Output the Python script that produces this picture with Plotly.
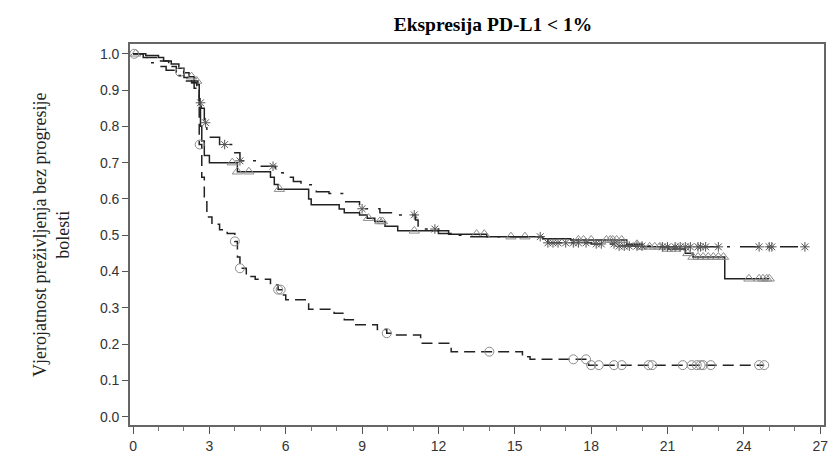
import numpy as np
import plotly.graph_objects as go

# Kaplan-Meier step points (time in months, survival probability)
tri_times = [0, 0.5, 1.0, 1.2, 1.5, 1.8, 2.0, 2.2, 2.4, 2.55, 2.6, 2.65, 2.7, 2.8, 3.0,
             4.1, 5.4, 5.55, 5.7, 6.9, 7.0, 8.1, 8.3, 8.9, 9.2, 9.5, 9.9, 10.4, 12.4,
             13.9, 16.1, 17.2, 19.4, 20.0, 21.0, 21.7, 22.0, 23.25]
tri_surv = [1.0, 0.995, 0.99, 0.98, 0.972, 0.96, 0.948, 0.937, 0.925, 0.915, 0.86, 0.80, 0.76, 0.72, 0.70,
            0.675, 0.66, 0.64, 0.627, 0.60, 0.584, 0.572, 0.562, 0.556, 0.547, 0.538, 0.525, 0.512, 0.503,
            0.496, 0.49, 0.487, 0.475, 0.468, 0.462, 0.45, 0.44, 0.38]
tri_end = 25.0
tri_cens = [0.1, 2.3, 2.5, 3.9, 4.1, 4.55, 5.75, 9.25, 9.7, 9.8, 11.05, 13.5, 13.8, 14.85, 15.4,
            17.5, 17.7, 18.0, 18.6, 18.75, 18.85, 19.0, 19.2, 19.8, 20.0, 20.3, 20.5, 20.7, 21.0,
            21.3, 21.8, 22.0, 22.2, 22.4, 22.6, 22.8, 23.0, 23.2, 24.2, 24.6, 24.75, 24.9, 25.0]

star_times = [0, 0.4, 0.6, 0.9, 1.3, 1.7, 2.1, 2.4, 2.6, 2.68, 2.8, 2.9, 3.0, 3.4, 4.0, 4.2,
              5.0, 5.6, 5.9, 6.3, 6.6, 7.2, 7.7, 8.3, 8.9, 9.7, 10.2, 11.1, 11.2, 12.0, 12.5,
              13.0, 16.3, 18.0, 19.0, 20.5]
star_surv = [1.0, 0.99, 0.975, 0.965, 0.955, 0.94, 0.925, 0.905, 0.865, 0.85, 0.81, 0.79, 0.77, 0.75, 0.727, 0.705,
             0.69, 0.672, 0.66, 0.648, 0.639, 0.62, 0.615, 0.592, 0.573, 0.562, 0.556, 0.542, 0.517, 0.505, 0.50,
             0.496, 0.479, 0.476, 0.47, 0.468]
star_end = 26.4
star_cens = [2.65, 2.85, 3.6, 4.2, 5.5, 9.0, 11.05, 11.86, 16.0, 16.3, 16.5, 16.7, 17.0, 17.3, 17.5,
             17.8, 18.2, 18.4, 18.9, 19.1, 19.3, 19.5, 19.8, 20.0, 20.8, 21.0, 21.3, 21.5, 21.7,
             21.9, 22.2, 22.3, 22.5, 23.0, 24.6, 25.0, 25.1, 26.4]

circ_times = [0, 0.5, 1.0, 1.4, 1.7, 2.0, 2.3, 2.5, 2.6, 2.7, 2.8, 2.9, 3.1, 3.4, 3.7, 4.0, 4.1,
              4.2, 4.45, 4.8, 5.4, 5.7, 5.85, 6.0, 6.9, 7.9, 8.3, 8.7, 9.6, 9.97, 10.2, 11.3,
              12.5, 15.3, 15.6, 17.9]
circ_surv = [1.0, 0.99, 0.98, 0.965, 0.95, 0.935, 0.92, 0.91, 0.75, 0.66, 0.60, 0.55, 0.53, 0.515, 0.505, 0.483, 0.44,
             0.409, 0.386, 0.379, 0.363, 0.35, 0.335, 0.322, 0.296, 0.285, 0.267, 0.253, 0.24, 0.23, 0.225, 0.202,
             0.179, 0.165, 0.158, 0.142]
circ_end = 24.8
circ_cens = [0.05, 1.85, 2.62, 4.0, 4.2, 5.7, 5.8, 9.97, 14.0, 17.3, 17.8, 18.0, 18.3, 18.9, 19.2,
             20.26, 20.4, 21.6, 21.95, 22.15, 22.3, 22.4, 22.7, 24.6, 24.8]

y_ticks = [0.0, 0.1, 0.2, 0.3, 0.4, 0.5, 0.6, 0.7, 0.8, 0.9, 1.0]
x_ticks = [0, 3, 6, 9, 12, 15, 18, 21, 24, 27]


def step_at(times, surv, t):
    i = np.searchsorted(times, t, side="right") - 1
    return np.asarray(surv)[i]


fig = go.Figure()

groups = [
    (tri_times, tri_surv, tri_end, tri_cens, "solid", "triangle-up-open", "#8c8c8c", 9),
    (star_times, star_surv, star_end, star_cens, "18px,9px,3px,10px", "asterisk-open", "#555555", 8),
    (circ_times, circ_surv, circ_end, circ_cens, "11px,6px", "circle-open", "#8c8c8c", 9),
]

for times, surv, end, cens, dash, sym, mcol, msize in groups:
    fig.add_trace(go.Scatter(
        x=list(times) + [end], y=list(surv) + [surv[-1]],
        mode="lines", line=dict(color="#222222", width=1.5, dash=dash, shape="hv"),
        showlegend=False, hoverinfo="skip"))
    cens = np.array(cens)
    fig.add_trace(go.Scatter(
        x=cens, y=step_at(times, surv, cens), mode="markers",
        marker=dict(symbol=sym, size=msize, color=mcol, line=dict(width=1, color=mcol)),
        showlegend=False))

fig.update_layout(
    width=834, height=461,
    margin=dict(l=130, r=6, t=44, b=36),
    plot_bgcolor="white", paper_bgcolor="white",
    title=dict(text="<b>Ekspresija PD-L1 &lt; 1%</b>", x=493 / 834, xanchor="center",
               y=1 - 24 / 461, yanchor="middle",
               font=dict(family="Liberation Serif, Times New Roman, serif", size=19.5, color="black")),
)

axis_font = dict(family="Liberation Sans, Arial, sans-serif", size=14, color="#333333")

fig.update_xaxes(
    range=[-0.12, 27.15], tickvals=x_ticks, ticks="outside", ticklen=7, tickwidth=1.3,
    tickcolor="#555555", showgrid=False, zeroline=False,
    showline=True, linecolor="#666666", linewidth=1.6, mirror=True,
    tickfont=axis_font,
    minor=dict(dtick=1, tick0=0, ticks="outside", ticklen=4, tickcolor="#777777", showgrid=False),
)
fig.update_yaxes(
    range=[-0.023, 1.027], tickvals=y_ticks, tickformat=".1f", ticks="outside", ticklen=6,
    tickwidth=1.3, tickcolor="#555555", showgrid=False, zeroline=False,
    showline=True, linecolor="#666666", linewidth=1.6, mirror=True,
    tickfont=axis_font,
)

fig.add_annotation(
    text="Vjerojatnost preživljenja bez progresije<br>bolesti",
    xref="paper", yref="paper", x=(51 - 130) / 698, y=0.5,
    xanchor="center", yanchor="middle", textangle=-90, showarrow=False,
    font=dict(family="Liberation Serif, Times New Roman, serif", size=18, color="#222222"),
)

fig.write_html("out.html", config={"displayModeBar": False},
               post_script="document.body.style.margin='0';")
